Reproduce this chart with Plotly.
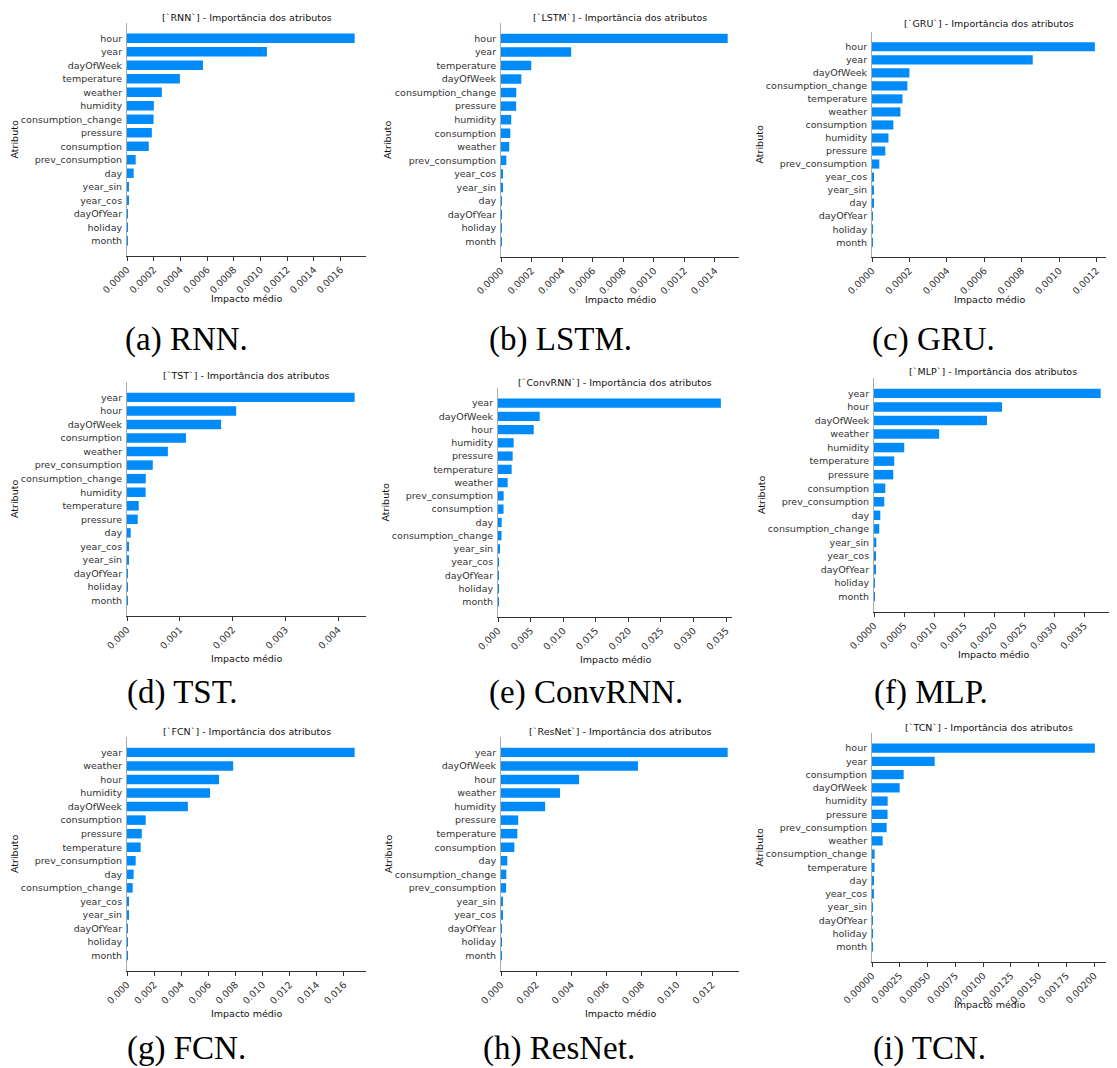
import plotly.graph_objects as go

W, H = 1117, 1068
OFF = 8  # page body margin in the browser
FW, FH = W - OFF, H - OFF

# ---------------- data (top to bottom) ----------------
rnn_features = ["hour", "year", "dayOfWeek", "temperature", "weather", "humidity",
                "consumption_change", "pressure", "consumption", "prev_consumption",
                "day", "year_sin", "year_cos", "dayOfYear", "holiday", "month"]
rnn_values = [0.001705, 0.001048, 0.000569, 0.000396, 0.000261, 0.000201,
              0.000199, 0.000186, 0.000163, 0.000065, 0.000050, 0.000010,
              0.000009, 0.000004, 0.000001, 0.000001]

lstm_features = ["hour", "year", "temperature", "dayOfWeek", "consumption_change", "pressure",
                 "humidity", "consumption", "weather", "prev_consumption", "year_cos",
                 "year_sin", "day", "dayOfYear", "holiday", "month"]
lstm_values = [0.001483, 0.000459, 0.000198, 0.000133, 0.000100, 0.000099,
               0.000067, 0.000061, 0.000054, 0.000035, 0.000008, 0.000007,
               0.000005, 0.000004, 0.000001, 0.000001]

gru_features = ["hour", "year", "dayOfWeek", "consumption_change", "temperature", "weather",
                "consumption", "humidity", "pressure", "prev_consumption", "year_cos",
                "year_sin", "day", "dayOfYear", "holiday", "month"]
gru_values = [0.001191, 0.000859, 0.000200, 0.000189, 0.000163, 0.000152,
              0.000114, 0.000088, 0.000071, 0.000039, 0.000007, 0.000007,
              0.000006, 0.000003, 0.000001, 0.000001]

tst_features = ["year", "hour", "dayOfWeek", "consumption", "weather", "prev_consumption",
                "consumption_change", "humidity", "temperature", "pressure", "day",
                "year_cos", "year_sin", "dayOfYear", "holiday", "month"]
tst_values = [0.004310, 0.002067, 0.001782, 0.001116, 0.000774, 0.000488,
              0.000355, 0.000352, 0.000222, 0.000203, 0.000070, 0.000025,
              0.000023, 0.000010, 0.000003, 0.000002]

convrnn_features = ["year", "dayOfWeek", "hour", "humidity", "pressure", "temperature",
                    "weather", "prev_consumption", "consumption", "day", "consumption_change",
                    "year_sin", "year_cos", "dayOfYear", "holiday", "month"]
convrnn_values = [0.03420, 0.00640, 0.00548, 0.00240, 0.00225, 0.00210,
                  0.00148, 0.00087, 0.00085, 0.00056, 0.00054, 0.00025,
                  0.00010, 0.00008, 0.00002, 0.00001]

mlp_features = ["year", "hour", "dayOfWeek", "weather", "humidity", "temperature",
                "pressure", "consumption", "prev_consumption", "day", "consumption_change",
                "year_sin", "year_cos", "dayOfYear", "holiday", "month"]
mlp_values = [0.003772, 0.002130, 0.001880, 0.001084, 0.000503, 0.000337,
              0.000321, 0.000188, 0.000171, 0.000105, 0.000088, 0.000039,
              0.000022, 0.000017, 0.000003, 0.000002]

fcn_features = ["year", "weather", "hour", "humidity", "dayOfWeek", "consumption",
                "pressure", "temperature", "prev_consumption", "day", "consumption_change",
                "year_cos", "year_sin", "dayOfYear", "holiday", "month"]
fcn_values = [0.01679, 0.00783, 0.00679, 0.00612, 0.00449, 0.00138,
              0.00109, 0.00101, 0.00064, 0.00049, 0.00042, 0.00012,
              0.00010, 0.00005, 0.00001, 0.00001]

resnet_features = ["year", "dayOfWeek", "hour", "weather", "humidity", "pressure",
                   "temperature", "consumption", "day", "consumption_change",
                   "prev_consumption", "year_sin", "year_cos", "dayOfYear", "holiday", "month"]
resnet_values = [0.01289, 0.00779, 0.00444, 0.00336, 0.00251, 0.00098,
                 0.00093, 0.00076, 0.00036, 0.00030, 0.00029, 0.00010,
                 0.00008, 0.00005, 0.00001, 0.00001]

tcn_features = ["hour", "year", "consumption", "dayOfWeek", "humidity", "pressure",
                "prev_consumption", "weather", "consumption_change", "temperature", "day",
                "year_cos", "year_sin", "dayOfYear", "holiday", "month"]
tcn_values = [0.002005, 0.000564, 0.000285, 0.000249, 0.000141, 0.000140,
              0.000132, 0.000096, 0.000024, 0.000023, 0.000015, 0.000014,
              0.000009, 0.000008, 0.000001, 0.000001]

model_names = ["RNN", "LSTM", "GRU", "TST", "ConvRNN", "MLP", "FCN", "ResNet", "TCN"]
caption_letters = ["a", "b", "c", "d", "e", "f", "g", "h", "i"]

# ---------------- layout (page pixel coordinates) ----------------
panels = [
    (rnn_features, rnn_values, (127, 366, 23, 256), 0.0002, ".4f", 6),
    (lstm_features, lstm_values, (501, 739, 23, 257), 0.0002, ".4f", 6),
    (gru_features, gru_values, (872, 1106, 32, 257), 0.0002, ".4f", 9),
    (tst_features, tst_values, (127, 366, 382, 616), 0.001, ".3f", 6),
    (convrnn_features, convrnn_values, (498, 732, 388, 617), 0.005, ".3f", 6),
    (mlp_features, mlp_values, (874, 1112, 378, 612), 0.0005, ".4f", 6),
    (fcn_features, fcn_values, (127, 366, 737, 971), 0.002, ".3f", 6),
    (resnet_features, resnet_values, (501, 739, 737, 971), 0.002, ".3f", 6),
    (tcn_features, tcn_values, (872, 1106, 733, 962), 0.00025, ".5f", 6),
]
caption_pos = [(123, 340), (487, 340), (870, 340),
               (125, 692), (487, 692), (872, 692),
               (125, 1048), (481, 1048), (871, 1048)]

FONT = "DejaVu Sans"
FS = 9.5
BAR = "#008bfb"


def px(x):
    return min(1.0, max(0.0, (x - OFF) / FW))


def py(y):
    return min(1.0, max(0.0, 1 - (y - OFF) / FH))


fig = go.Figure()
annotations = []
layout = dict(width=FW, height=FH, margin=dict(l=0, r=0, t=0, b=0, autoexpand=False),
              template="none",
              paper_bgcolor="white", plot_bgcolor="white", showlegend=False,
              font=dict(family=FONT, size=FS, color="#333333"))

for i, (feats, vals, (x0, x1, y0, y1), dt, fmt, tgap) in enumerate(panels):
    n = i + 1
    xa = "x" if n == 1 else f"x{n}"
    ya = "y" if n == 1 else f"y{n}"
    fig.add_trace(go.Bar(x=vals, y=feats, orientation="h", width=0.7,
                         marker=dict(color=BAR, line=dict(width=0)),
                         xaxis=xa, yaxis=ya, hoverinfo="x+y"))
    xkey = "xaxis" if n == 1 else f"xaxis{n}"
    ykey = "yaxis" if n == 1 else f"yaxis{n}"
    nb = len(feats)
    layout[xkey] = dict(domain=[px(x0), px(x1)], anchor=ya, automargin=False,
                        range=[0, max(vals) * 1.05], dtick=dt, tick0=0,
                        tickformat=fmt, tickangle=-45, showgrid=False, zeroline=False,
                        showline=True, linecolor="#333333", linewidth=1,
                        ticks="outside", ticklen=3.5, tickcolor="#333333",
                        tickfont=dict(family=FONT, size=FS, color="#333333"))
    layout[ykey] = dict(domain=[py(y1), py(y0)], anchor=xa, automargin=False,
                        type="category", categoryorder="array", categoryarray=feats,
                        range=[nb - 1 + 1.135, -1.135], showgrid=False, zeroline=False,
                        showline=True, linecolor="#aaaaaa", linewidth=1, ticks="",
                        ticklabelstandoff=2,
                        tickfont=dict(family=FONT, size=FS, color="#333333"))
    cx = (x0 + x1) / 2
    annotations.append(dict(text=f"[`{model_names[i]}`] - Importância dos atributos",
                            x=px(cx), y=py(y0 - tgap), xref="paper", yref="paper",
                            xanchor="center", yanchor="middle", showarrow=False,
                            font=dict(family=FONT, size=FS, color="#111111")))
    annotations.append(dict(text="Impacto médio", x=px(cx), y=py(y1 + 42),
                            xref="paper", yref="paper", xanchor="center", yanchor="middle",
                            showarrow=False, font=dict(family=FONT, size=FS, color="#111111")))
    annotations.append(dict(text="Atributo", x=px(x0 - 113), y=py((y0 + y1) / 2),
                            xref="paper", yref="paper", xanchor="center", yanchor="middle",
                            textangle=-90, showarrow=False,
                            font=dict(family=FONT, size=FS, color="#111111")))
    cxp, cyp = caption_pos[i]
    annotations.append(dict(text=f"({caption_letters[i]}) {model_names[i]}.",
                            x=px(cxp), y=py(cyp), xref="paper", yref="paper",
                            xanchor="left", yanchor="middle", showarrow=False,
                            font=dict(family="Liberation Serif", size=33, color="#000000")))

layout["annotations"] = annotations
fig.update_layout(**layout)
fig.write_html("out.html")
